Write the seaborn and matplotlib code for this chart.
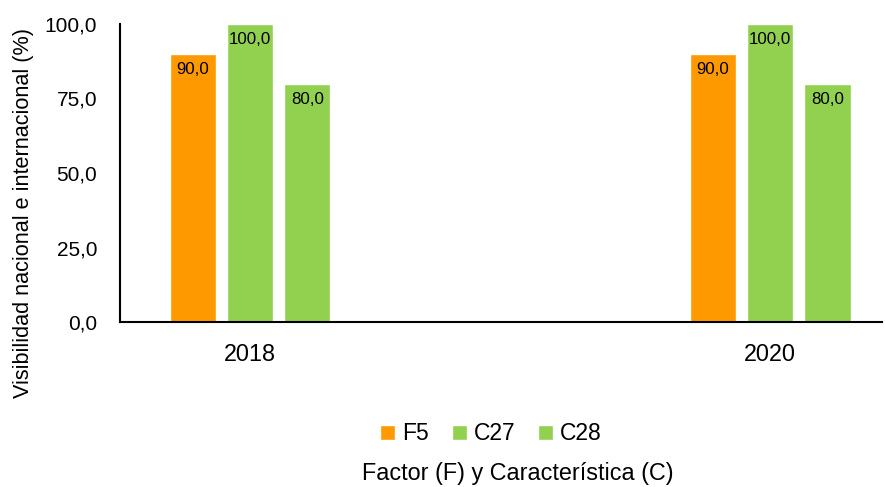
import matplotlib
matplotlib.use("Agg")
import matplotlib.pyplot as plt
import seaborn as sns
import pandas as pd
from matplotlib.patches import Patch

years = ["2018", "2020"]
series = ["F5", "C27", "C28"]
values = {
    "F5": [90.0, 90.0],
    "C27": [100.0, 100.0],
    "C28": [80.0, 80.0],
}
colors = {"F5": "#FF9900", "C27": "#92D050", "C28": "#92D050"}
yticks = [0, 25, 50, 75, 100]

rows = []
for s in series:
    for y, v in zip(years, values[s]):
        rows.append({"Año": y, "Serie": s, "Valor": v})
df = pd.DataFrame(rows)

sns.set_theme(style="white")
fam = ["Liberation Sans", "DejaVu Sans"]
plt.rcParams["font.family"] = fam
plt.rcParams["text.color"] = "black"

W, H = 885, 487
fig = plt.figure(figsize=(W / 100, H / 100), dpi=100)
ax = fig.add_axes([120 / W, 1 - 322 / H, (882 - 120) / W, (322 - 24) / H])

sns.barplot(data=df, x="Año", y="Valor", hue="Serie", hue_order=series,
            order=years, palette=colors, width=0.33, gap=0.19,
            saturation=1, legend=False, ax=ax)

for cont in ax.containers:
    labels = [f"{b.get_height():.1f}".replace(".", ",") for b in cont]
    ax.bar_label(cont, labels=labels, padding=-16.5, fontsize=12.2, color="black")

ax.set_xlim(-0.25, 0.215 + 1)
ax.set_ylim(0, 100)
ax.set_yticks(yticks)
ax.set_yticklabels([f"{v:.1f}".replace(".", ",") for v in yticks], fontsize=15,
                   color="black")
ax.set_xticks([0, 1])
ax.set_xticklabels(years, fontsize=16.8, color="black")
ax.tick_params(axis="y", length=0, pad=16.5)
ax.tick_params(axis="x", length=0, pad=15)
ax.set_xlabel("")
ax.set_ylabel("Visibilidad nacional e internacional (%)", fontsize=15.6,
              color="black")
ax.yaxis.set_label_coords((34 - 120) / 762, (322 - 212.5) / 298)

for s in ["top", "right"]:
    ax.spines[s].set_visible(False)
for s in ["left", "bottom"]:
    ax.spines[s].set_color("black")
    ax.spines[s].set_linewidth(1.5)

handles = [Patch(facecolor=colors[s], label=s) for s in series]
fig.legend(handles=handles, loc="center", bbox_to_anchor=(491 / W, 1 - 434 / H),
           ncol=3, frameon=False, fontsize=16.5, handlelength=0.65, handleheight=0.65,
           columnspacing=1.0, handletextpad=0.3)
fig.text(517.5 / W, 1 - 480 / H, "Factor (F) y Característica (C)", ha="center",
         va="baseline", fontsize=16.8, color="black")

fig.savefig("out.png", dpi=100)
